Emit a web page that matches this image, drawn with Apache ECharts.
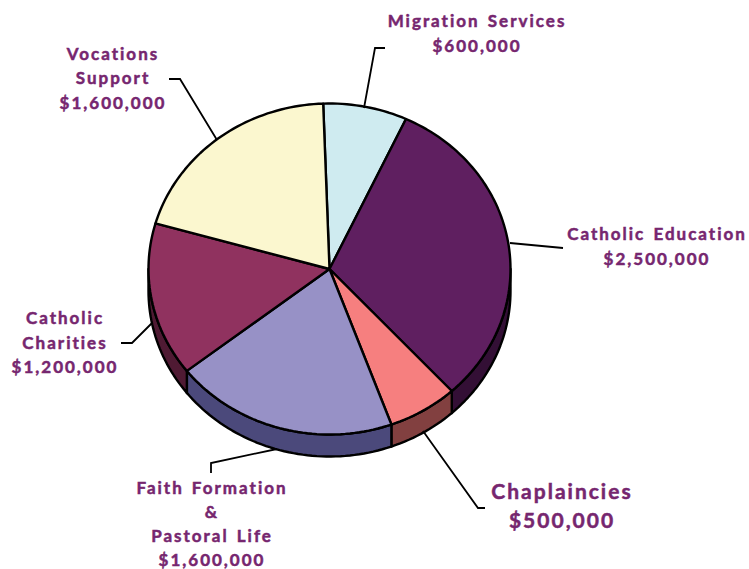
<!DOCTYPE html>
<html><head><meta charset="utf-8">
<style>html,body{margin:0;padding:0;background:#fff}#c{width:749px;height:569px}#c text{letter-spacing:2px;word-spacing:2px}</style>
<script src="https://cdn.jsdelivr.net/npm/echarts@6/dist/echarts.min.js"></script>
</head><body><div id="c"></div>
<script>
const categories = ['Migration Services','Catholic Education','Chaplaincies','Faith Formation\n&\nPastoral Life','Catholic Charities','Vocations\nSupport'];
const amounts = [600000,2500000,500000,1600000,1200000,1600000];
const topColors = ['#CFEBF0','#5F1F60','#F67F7F','#9791C6','#90325F','#FBF7CF'];
const sideColors = ['#67757A','#330F35','#824040','#4B497B','#4F1A33','#7D7B67'];
const labelCats = ['Migration Services','Catholic Education','Chaplaincies','Faith Formation\n&\nPastoral Life','Catholic\nCharities','Vocations\nSupport'];

// layout (not data)
const PIE = {cx:329.5, cy:269, rx:181, ry:165.5, depth:22, start:-2};
const labelBox = [
  {x:477,y:32.5,lh:25,size:17},
  {x:657,y:245.5,lh:25,size:17},
  {x:562,y:505,lh:29,size:21},
  {x:212,y:523.5,lh:24,size:17},
  {x:65,y:342,lh:24.5,size:17},
  {x:113,y:77.5,lh:24.5,size:17}
];
const leaders = [
  [[364,108],[375,48],[385,48]],
  [[510,243],[563,248]],
  [[423,431],[478,508],[485,508]],
  [[277,449],[211,463],[211,473]],
  [[152,323],[132,343],[121,343]],
  [[217,140],[180,79],[169,79]]
];

const total = amounts.reduce((a,b)=>a+b,0);
function pt(deg,dy){const r=deg*Math.PI/180;return [PIE.cx+PIE.rx*Math.sin(r),PIE.cy-PIE.ry*Math.cos(r)+(dy||0)];}
function span(i,value){
  let s=PIE.start;for(let k=0;k<i;k++)s+=amounts[k]/total*360;
  return [s,s+value/total*360];
}
function arc(a,b,dy){const n=Math.max(2,Math.ceil((b-a)/1.5)),p=[];for(let k=0;k<=n;k++)p.push(pt(a+(b-a)*k/n,dy));return p;}
const base={type:'custom',coordinateSystem:'none',silent:true,animation:false,
  data:amounts.map((v,i)=>({name:categories[i],value:[v]}))};
const option={
  animation:false,backgroundColor:'#fff',
  series:[
    Object.assign({},base,{name:'side',z:1,renderItem(p,api){
      const [a,b]=span(p.dataIndex,api.value(0));
      const s=Math.max(a,90),e=Math.min(b,270);
      if(e<=s) return {type:'group',children:[]};
      return {type:'polygon',shape:{points:arc(s,e,0).concat(arc(s,e,PIE.depth).reverse())},
        style:{fill:sideColors[p.dataIndex],stroke:'#000',lineWidth:2.4,lineJoin:'round'}};
    }}),
    Object.assign({},base,{name:'top',z:2,renderItem(p,api){
      const [a,b]=span(p.dataIndex,api.value(0));
      return {type:'polygon',shape:{points:[[PIE.cx,PIE.cy]].concat(arc(a,b,0))},
        style:{fill:topColors[p.dataIndex],stroke:'#000',lineWidth:2.4,lineJoin:'round'}};
    }}),
    Object.assign({},base,{name:'labels',z:3,renderItem(p,api){
      const i=p.dataIndex,b=labelBox[i];
      return {type:'group',children:[
        {type:'polyline',shape:{points:leaders[i]},style:{fill:'none',stroke:'#000',lineWidth:1.8}},
        {type:'text',style:{text:labelCats[i]+'\n$'+api.value(0).toLocaleString('en-US'),x:b.x,y:b.y,
          fill:'#76266F',stroke:'#76266F',lineWidth:0.5,font:'bold '+b.size+'px Lato',lineHeight:b.lh,align:'center',verticalAlign:'middle'}}
      ]};
    }})
  ]
};
const chart=echarts.init(document.getElementById('c'),null,{renderer:'svg',width:749,height:569});
chart.setOption(option);
</script></body></html>
